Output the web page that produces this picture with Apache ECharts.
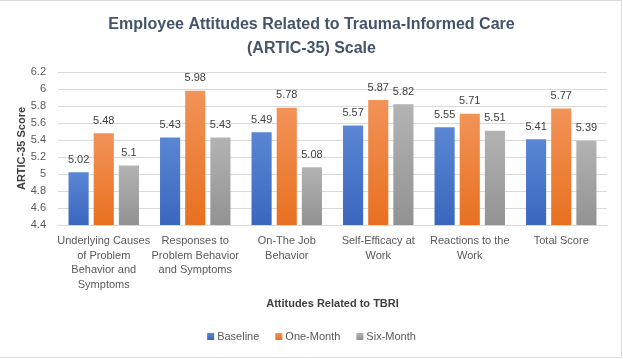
<!DOCTYPE html>
<html><head><meta charset="utf-8">
<script src="https://cdn.jsdelivr.net/npm/echarts@6/dist/echarts.min.js"></script>
<style>html,body{margin:0;padding:0;background:#fff}#c{width:623px;height:359px}</style>
</head><body><div id="c"></div>
<script>
const categories = ["Underlying Causes\nof Problem\nBehavior and\nSymptoms", "Responses to\nProblem Behavior\nand Symptoms", "On-The Job\nBehavior", "Self-Efficacy at\nWork", "Reactions to the\nWork", "Total Score"];
const baseline = [5.02, 5.43, 5.49, 5.57, 5.55, 5.41];
const oneMonth = [5.48, 5.98, 5.78, 5.87, 5.71, 5.77];
const sixMonth = [5.1, 5.43, 5.08, 5.82, 5.51, 5.39];
const yTicks = {min: 4.4, max: 6.2, interval: 0.2};

const FONT = "'Liberation Sans', Arial, sans-serif";
function grad(top, bottom) {
  return new echarts.graphic.LinearGradient(0, 0, 0, 1, [{offset: 0, color: top}, {offset: 1, color: bottom}]);
}
const lbl = {show: true, position: 'top', distance: 7, color: '#404040', fontSize: 11, fontFamily: FONT,
  formatter: p => String(p.value)};
const chart = echarts.init(document.getElementById('c'));
chart.setOption({
  animation: false,
  textStyle: {fontFamily: FONT},
  title: {text: 'Employee Attitudes Related to Trauma-Informed Care\n(ARTIC-35) Scale', left: 'center', top: 8,
    textStyle: {fontSize: 16, fontWeight: 'bold', color: '#44546A', fontFamily: FONT, lineHeight: 24}},
  graphic: [{type: 'polyline', silent: true, shape: {points: [[0, 0.5], [621.5, 0.5], [621.5, 357.5], [0, 357.5]]},
    style: {stroke: '#DCDCDC', fill: null, lineWidth: 1}}],
  grid: {left: 58, right: 16, top: 72, bottom: 134, containLabel: false},
  legend: {bottom: 12, left: 'center', itemWidth: 7, itemHeight: 7, itemGap: 16, icon: 'rect',
    textStyle: {color: '#595959', fontSize: 11, fontFamily: FONT, padding: [0, 0, 0, -2]},
    data: ['Baseline', 'One-Month', 'Six-Month']},
  xAxis: {type: 'category', data: categories,
    name: 'Attitudes Related to TBRI', nameLocation: 'middle', nameGap: 73, nameMoveOverlap: false,
    nameTextStyle: {fontWeight: 'bold', color: '#404040', fontSize: 11, fontFamily: FONT},
    axisLine: {lineStyle: {color: '#D9D9D9'}}, axisTick: {show: false},
    axisLabel: {color: '#595959', fontSize: 11, lineHeight: 14.5, interval: 0, margin: 9, fontFamily: FONT}},
  yAxis: {type: 'value', min: yTicks.min, max: yTicks.max, interval: yTicks.interval,
    name: 'ARTIC-35 Score', nameLocation: 'middle', nameGap: 31, nameRotate: 90, nameMoveOverlap: false,
    nameTextStyle: {fontWeight: 'bold', color: '#404040', fontSize: 11, fontFamily: FONT},
    axisLine: {show: false}, axisTick: {show: false},
    splitLine: {lineStyle: {color: '#D9D9D9'}},
    axisLabel: {color: '#595959', fontSize: 11, margin: 12, fontFamily: FONT,
      formatter: v => String(parseFloat(v.toFixed(1)))}},
  series: [
    {name: 'Baseline', type: 'bar', data: baseline, barGap: '25%', barCategoryGap: '23%',
      itemStyle: {color: grad('#5A86D4', '#3A67BE')}, label: lbl},
    {name: 'One-Month', type: 'bar', data: oneMonth,
      itemStyle: {color: grad('#F29358', '#E8701F')}, label: lbl},
    {name: 'Six-Month', type: 'bar', data: sixMonth,
      itemStyle: {color: grad('#B3B3B3', '#929292')}, label: lbl}
  ]
});
</script></body></html>
